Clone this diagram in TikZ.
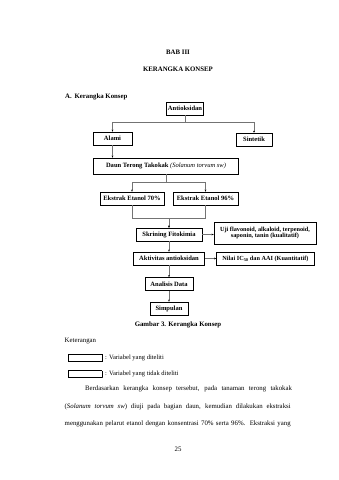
\documentclass[tikz,border=0pt]{standalone}
\usepackage{fontspec}
\setmainfont{Liberation Serif}
\usetikzlibrary{arrows.meta,positioning}

\newcommand{\satuan}{0.6195mm}

\tikzset{
    kotak/.style={draw, line width=1.3pt, fill=white, inner sep=1pt,
        font=\fontsize{11.5}{12}\selectfont\bfseries, align=center,
        minimum height=13*\satuan},
    kotakputus/.style={kotak, line width=0.9pt, dash pattern=on 1pt off 0.7pt},
    panah/.style={draw=black!55, line width=0.5pt,
        -{Stealth[length=3.5pt,width=3pt,color=black]}},
    judul/.style={font=\fontsize{12}{14}\selectfont\bfseries},
    teks/.style={font=\fontsize{12}{14}\selectfont, inner sep=0pt},
}

\begin{document}
\begin{tikzpicture}[x=\satuan,y=-\satuan]
    \useasboundingbox (0,0) rectangle (339,480);

    % Judul bab
    \node[judul] (bab) at (178,52) {BAB III};
    \node[judul] (kerangka) at (178,69) {KERANGKA KONSEP};
    \node[judul, anchor=west, inner sep=0pt] (subbab) at (65,97) {A.\hspace{1.8mm}Kerangka Konsep};

    % Kotak-kotak kerangka konsep
    \node[kotak, minimum width=37*\satuan] (anti) at (185,108.5) {Antioksidan};
    \node[kotak, minimum width=39*\satuan] (alami) at (112.5,138.5) {Alami};
    \node[kotakputus, minimum width=36*\satuan] (sintetik) at (254,139.5) {Sintetik};
    \node[kotak, minimum width=145*\satuan, minimum height=16*\satuan] (daun) at (166,166)
        {Daun Terong Takokak \textmd{\textit{(Solanum torvum sw)}}};
    \node[kotak, minimum width=64*\satuan] (e70) at (132,198.5) {Ekstrak Etanol 70\%};
    \node[kotak, minimum width=65*\satuan] (e96) at (205.5,198.5) {Ekstrak Etanol 96\%};
    \node[kotak, minimum width=66*\satuan] (skrining) at (169,234.5) {Skrining Fitokimia};
    \node[kotak, font=\fontsize{11}{12}\selectfont\bfseries, minimum width=102*\satuan,
        minimum height=22*\satuan] (uji) at (265,233)
        {Uji flavonoid, alkaloid, terpenoid,\\saponin, tanin (kualitatif)};
    \node[kotak, minimum width=71*\satuan] (aktivitas) at (169,258.5) {Aktivitas antioksidan};
    \node[kotak, font=\fontsize{11}{12}\selectfont\bfseries, minimum width=98*\satuan]
        (nilai) at (265.5,259) {Nilai IC\textsubscript{50} dan AAI (Kuantitatif)};
    \node[kotak, minimum width=48*\satuan] (analisis) at (169,284) {Analisis Data};
    \node[kotak, minimum width=38*\satuan] (simpulan) at (169,308.5) {Simpulan};

    % Garis penghubung
    \draw[panah] (anti.south) -- ++(0,6.5) -| (alami.north);
    \draw[panah] (anti.south) -- ++(0,6.5) -| (sintetik.north);
    \draw[panah] (alami.south) -- (alami.south |- daun.north);
    \draw[panah] (daun.south) -- ++(0,8) -| (e70.north);
    \draw[panah] (daun.south) -- ++(0,8) -| (e96.north);
    \draw[panah] (e70.south) -- ++(0,12.5) -| (skrining.north);
    \draw[panah] (e96.south) -- ++(0,12.5) -| (skrining.north);
    \draw[panah] (skrining.east) -- (skrining.east -| uji.west);
    \draw[panah] (skrining.south) -- (aktivitas.north);
    \draw[panah] (aktivitas.east) -- (aktivitas.east -| nilai.west);
    \draw[panah] (aktivitas.south) -- (analisis.north);
    \draw[panah] (analisis.south) -- (simpulan.north);

    % Keterangan gambar
    \node[judul] (gambar) at (178,325) {Gambar 3. Kerangka Konsep};
    \node[teks, anchor=west] (keterangan) at (64.6,341) {Keterangan};
    \draw[line width=1.3pt] (68,354.5) rectangle (102,361.5);
    \node[teks, font=\fontsize{11.5}{13}\selectfont, anchor=west] (ket1) at (105,358)
        {: Variabel yang diteliti};
    \draw[line width=0.9pt, dash pattern=on 1pt off 0.7pt] (68,370.5) rectangle (102,377.5);
    \node[teks, font=\fontsize{11.5}{13}\selectfont, anchor=west] (ket2) at (105,374)
        {: Variabel yang tidak diteliti};

    % Paragraf
    \node[teks, anchor=west] (baris1) at (85,389)
        {\makebox[128.2mm][s]{Berdasarkan kerangka konsep tersebut, pada tanaman terong takokak}};
    \node[teks, anchor=west] (baris2) at (64.6,406.5)
        {\makebox[140mm][s]{(\textit{Solanum torvum sw}) diuji pada bagian daun, kemudian dilakukan ekstraksi}};
    \node[teks, anchor=west] (baris3) at (64.6,424)
        {\makebox[140mm][s]{menggunakan pelarut etanol dengan konsentrasi 70\% serta 96\%. Ekstraksi yang}};

    % Nomor halaman
    \node[teks] (halaman) at (178,449) {25};

\end{tikzpicture}
\end{document}
